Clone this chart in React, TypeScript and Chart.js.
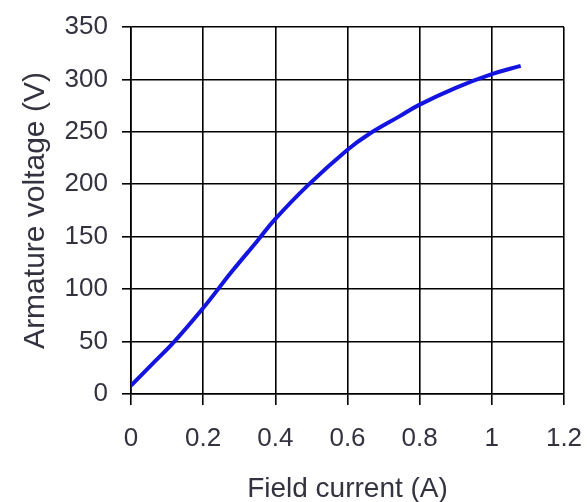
import React, { useEffect, useRef } from "react";
import { Chart, registerables } from "chart.js";

Chart.register(...registerables);

const fieldCurrent = [0, 0.06, 0.12, 0.2, 0.28, 0.35, 0.4, 0.49, 0.6, 0.66, 0.745, 0.8, 0.9, 1.0, 1.08];
const armatureVoltage = [8, 29, 50, 82, 117, 146, 167, 199, 233, 248, 265, 276, 292, 305, 313];
const xTitle = "Field current (A)";
const yTitle = "Armature voltage (V)";

const FONT = "'Liberation Sans', Arial, Helvetica, sans-serif";

export default function App() {
  const ref = useRef<HTMLCanvasElement>(null);

  useEffect(() => {
    if (!ref.current) return;
    const data = fieldCurrent.map((x, i) => ({ x, y: armatureVoltage[i] }));
    const chart = new Chart(ref.current, {
      type: "line",
      data: {
        datasets: [
          {
            data,
            borderColor: "#1414e0",
            borderWidth: 4,
            pointRadius: 0,
            fill: false,
            tension: 0.4,
          },
        ],
      },
      options: {
        animation: false,
        responsive: false,
        maintainAspectRatio: false,
        layout: { padding: { top: 27, right: 23, left: 0, bottom: 0 } },
        plugins: { legend: { display: false }, tooltip: { enabled: false } },
        scales: {
          x: {
            type: "linear",
            min: 0,
            max: 1.2,
            ticks: {
              stepSize: 0.2,
              color: "#333340",
              font: { family: FONT, size: 26 },
              padding: 18,
              maxRotation: 0,
              callback: (v: any) => String(parseFloat(Number(v).toFixed(1))),
            },
            grid: { color: "#000", lineWidth: 1.6, tickLength: 11, drawTicks: true },
            border: { color: "#000", width: 1.6 },
            title: {
              display: true,
              text: xTitle,
              color: "#333340",
              font: { family: FONT, size: 28 },
              padding: { top: 0, bottom: -4 },
            },
            afterFit: (s: any) => {
              s.height = 108;
              s.paddingLeft = 0;
              s.paddingRight = 0;
            },
          },
          y: {
            type: "linear",
            min: 0,
            max: 350,
            ticks: {
              stepSize: 50,
              color: "#333340",
              font: { family: FONT, size: 26 },
              padding: 14,
            },
            grid: { color: "#000", lineWidth: 1.6, tickLength: 9, drawTicks: true },
            border: { color: "#000", width: 1.6 },
            title: {
              display: true,
              text: yTitle,
              color: "#333340",
              font: { family: FONT, size: 30 },
              padding: { top: 18, bottom: 0 },
            },
            afterFit: (s: any) => {
              s.width = 131;
              s.paddingTop = 0;
              s.paddingBottom = 0;
            },
          },
        },
      },
    });
    return () => chart.destroy();
  }, []);

  return (
    <div style={{ position: "fixed", left: 0, top: 0, width: 587, height: 502, background: "#fff" }}>
      <canvas ref={ref} width={587} height={502} style={{ width: 587, height: 502 }} />
    </div>
  );
}
